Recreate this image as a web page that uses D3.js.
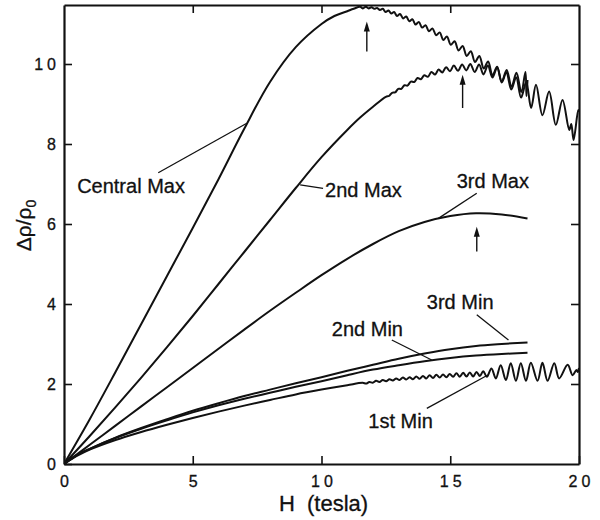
<!DOCTYPE html>
<html><head><meta charset="utf-8">
<script src="https://cdn.jsdelivr.net/npm/d3@7"></script>
<style>
body{margin:0;background:#fff}
svg{display:block}
text{font-family:"Liberation Sans",Arial,Helvetica,sans-serif;fill:#111;stroke:#111;stroke-width:0.3px}
</style>
</head><body>
<svg id="c" width="600" height="520"></svg>
<script>
// ---- data (H in tesla, value = Δρ/ρ0) ----
const xTicks = [0, 5, 10, 15, 20];
const yTicks = [0, 2, 4, 6, 8, 10];

const centralMax = [[0,0],[1,1.12],[2,2.3],[3,3.5],[4,4.7],[5,5.9],[6,7.12],[7,8.38],[8,9.55],[9,10.42],[10,11.0],[10.5,11.2],[11,11.32],[11.25,11.38],
 [11.5,11.43],[11.61,11.39],[11.72,11.43],[11.83,11.39],[11.94,11.42],[12.05,11.38],[12.16,11.40],[12.27,11.35],[12.38,11.38],[12.49,11.30],
 [12.6,11.34],[12.71,11.26],[12.82,11.30],[12.93,11.20],[13.05,11.25],[13.17,11.14],[13.29,11.19],[13.41,11.07],[13.53,11.12],[13.65,10.99],
 [13.78,11.05],[13.91,10.91],[14.04,10.97],[14.17,10.82],[14.31,10.89],[14.45,10.72],[14.59,10.79],[14.73,10.60],[14.87,10.69],[15.02,10.48],
 [15.17,10.57],[15.32,10.34],[15.48,10.45],[15.64,10.20],[15.8,10.32],[15.96,10.05],[16.13,10.20],[16.3,9.89],[16.47,10.06],[16.64,9.72],
 [16.82,9.93],[17.0,9.54],[17.18,9.79],[17.37,9.36],[17.56,9.67],[17.75,9.16],[17.95,9.55],[18.14,8.90],[18.33,9.48],[18.58,8.72],
 [18.84,9.31],[19.1,8.48],[19.36,9.10],[19.62,8.35],[19.7,8.5],[19.79,8.10],[19.97,8.85],[20,8.8]];

const secondMax = [[0,0],[1,0.7],[2,1.42],[3,2.16],[4,2.92],[5,3.7],[6,4.5],[7,5.3],[8,6.1],[9,6.9],[10,7.67],[11,8.35],[11.5,8.66],[12,8.93],
 [12.5,9.18],[12.62,9.20],[12.74,9.28],[12.86,9.29],[12.98,9.38],[13.1,9.38],[13.22,9.47],[13.34,9.46],[13.47,9.56],[13.6,9.55],
 [13.73,9.65],[13.86,9.62],[13.99,9.72],[14.13,9.68],[14.27,9.80],[14.41,9.74],[14.55,9.86],[14.69,9.79],[14.84,9.92],[14.99,9.82],
 [15.14,9.96],[15.3,9.83],[15.46,9.99],[15.62,9.84],[15.78,10.0],[15.95,9.80],[16.12,9.99],[16.29,9.74],[16.46,9.96],[16.64,9.66],
 [16.82,9.91],[17.0,9.56],[17.19,9.85],[17.38,9.43],[17.57,9.78],[17.76,9.30],[17.92,9.8],[17.96,9.2],[18.0,9.6]];

const thirdMax = [[0,0],[1,0.48],[2,0.96],[3,1.44],[4,1.92],[5,2.4],[6,2.88],[7,3.36],[8,3.83],[9,4.28],[10,4.72],[11,5.13],[12,5.5],
 [13,5.82],[14,6.05],[15,6.2],[16,6.27],[17,6.24],[18,6.14]];

const thirdMin = [[0,0],[0.5,0.22],[1,0.38],[2,0.66],[3,0.9],[4,1.12],[5,1.33],[6,1.52],[7,1.7],[8,1.86],[9,2.02],[10,2.17],[11,2.33],
 [12,2.48],[13,2.63],[14,2.76],[15,2.87],[16,2.95],[17,3.0],[18,3.04]];

const secondMin = [[0,0],[0.5,0.22],[1,0.38],[2,0.65],[3,0.88],[4,1.09],[5,1.29],[6,1.47],[7,1.63],[8,1.78],[9,1.93],[10,2.07],[11,2.22],
 [12,2.36],[13,2.47],[14,2.57],[15,2.65],[16,2.71],[17,2.75],[18,2.78]];

const firstMin = [[0,0],[0.5,0.2],[1,0.36],[2,0.6],[3,0.8],[4,0.98],[5,1.15],[6,1.31],[7,1.46],[8,1.6],[9,1.74],[10,1.86],[11,1.97],
 [11.6,2.03],[11.73,2.01],[11.86,2.05],[11.99,2.03],[12.12,2.08],[12.25,2.05],[12.38,2.10],[12.51,2.07],[12.64,2.12],[12.77,2.09],
 [12.9,2.14],[13.03,2.10],[13.16,2.16],[13.29,2.11],[13.42,2.17],[13.55,2.12],[13.68,2.19],[13.81,2.13],[13.94,2.20],[14.07,2.14],
 [14.2,2.22],[14.33,2.15],[14.46,2.23],[14.59,2.16],[14.72,2.24],[14.85,2.17],[14.98,2.25],[15.11,2.18],[15.24,2.27],[15.37,2.18],
 [15.5,2.28],[15.63,2.19],[15.76,2.29],[15.89,2.19],[16.02,2.30],[16.15,2.20],[16.28,2.32],[16.42,2.18],
 [16.6,2.39],[16.77,2.14],[16.96,2.47],[17.16,2.10],[17.35,2.52],[17.55,2.08],[17.74,2.52],[17.94,2.08],[18.13,2.53],[18.39,2.08],
 [18.58,2.53],[18.78,2.08],[19.04,2.52],[19.23,2.14],[19.56,2.48],[19.75,2.22],[19.9,2.35],[19.95,2.30],[20,2.40]];

const series = [centralMax, secondMax, thirdMax, thirdMin, secondMin, firstMin];

// annotation labels: text, text anchor (H,v), leader from, leader to (data units)
const labelTexts = ["Central Max", "2nd Max", "3rd Max", "3rd Min", "2nd Min", "1st Min"];
const labelAt    = [[0.51,6.78],[10.14,6.68],[15.25,6.9],[14.09,3.88],[10.4,3.2],[11.82,0.9]];
const leaderFrom = [[3.66,7.28],[9.17,6.98],[16.03,6.77],[16.03,3.73],[12.73,3.1],[14.09,1.39]];
const leaderTo   = [[7.10,8.52],[10.06,6.89],[14.54,6.14],[17.26,3.1],[14.28,2.6],[16.48,2.23]];
// arrows: H, tail value, tip value
const arrows = [[11.76,10.31,11.06],[15.48,8.9,9.73],[16.03,5.31,5.93]];

// ---- drawing ----
const svg = d3.select("#c");
const x = d3.scaleLinear().domain([0,20]).range([64,579]);
const y = d3.scaleLinear().domain([0,11.475]).range([464,5]);

svg.append("defs").append("clipPath").attr("id","clip")
  .append("rect").attr("x",x(0)).attr("y",y(11.475)).attr("width",x(20)-x(0)).attr("height",y(0)-y(11.475));

const line = d3.line().x(d=>x(d[0])).y(d=>y(d[1])).curve(d3.curveCatmullRom.alpha(0.5));

svg.append("g").attr("clip-path","url(#clip)")
  .selectAll("path").data(series).join("path")
  .attr("d", line).attr("fill","none").attr("stroke","#111")
  .attr("stroke-width",2).attr("stroke-linejoin","round");

function styleAxis(g){
  g.select(".domain").attr("stroke","#111").attr("stroke-width",2.2);
  g.selectAll(".tick line").attr("stroke","#111").attr("stroke-width",1.6);
  g.selectAll(".tick text").style("font-size","16px").style("letter-spacing","4px").attr("fill","#111");
}
svg.append("g").attr("transform",`translate(0,${y(0)})`)
  .call(d3.axisBottom(x).tickValues(xTicks).tickSizeInner(-8).tickSizeOuter(0).tickPadding(12))
  .call(styleAxis).call(g=>g.selectAll(".tick text").attr("dx","2"));
svg.append("g").attr("transform",`translate(${x(0)},0)`)
  .call(d3.axisLeft(y).tickValues(yTicks).tickSizeInner(-8).tickSizeOuter(0).tickPadding(4))
  .call(styleAxis).call(g=>g.selectAll(".tick text").attr("dy","0.36em"));
svg.append("g").attr("transform",`translate(0,${y(11.475)})`)
  .call(d3.axisTop(x).tickValues(xTicks.slice(1,4)).tickSizeInner(-8).tickSizeOuter(0).tickFormat(""))
  .call(styleAxis);
svg.append("g").attr("transform",`translate(${x(20)},0)`)
  .call(d3.axisRight(y).tickValues(yTicks.slice(1)).tickSizeInner(-8).tickSizeOuter(0).tickFormat(""))
  .call(styleAxis);

// axis titles
svg.append("text").attr("x",(x(0)+x(20))/2 + 2).attr("y",511)
  .attr("text-anchor","middle").style("font-size","22px").style("white-space","pre")
  .text("H  (tesla)");
const yl = svg.append("text").attr("transform",`translate(31,${(y(0)+y(11.475))/2 - 9}) rotate(-90)`)
  .attr("text-anchor","middle").style("font-size","21px");
yl.append("tspan").text("Δρ/ρ");
yl.append("tspan").attr("dy","5").style("font-size","14px").text("0");

// labels + leader lines
labelTexts.forEach((t,i)=>{
  svg.append("text").attr("x",x(labelAt[i][0])).attr("y",y(labelAt[i][1]))
    .style("font-size","20px").text(t);
  svg.append("line")
    .attr("x1",x(leaderFrom[i][0])).attr("y1",y(leaderFrom[i][1]))
    .attr("x2",x(leaderTo[i][0])).attr("y2",y(leaderTo[i][1]))
    .attr("stroke","#111").attr("stroke-width",1.3);
});

// arrows
arrows.forEach(a=>{
  const ax = x(a[0]), y0 = y(a[1]), y1 = y(a[2]);
  svg.append("line").attr("x1",ax).attr("x2",ax).attr("y1",y0).attr("y2",y1+6)
    .attr("stroke","#111").attr("stroke-width",1.4);
  svg.append("path").attr("d",`M${ax},${y1} L${ax-3},${y1+10} L${ax+3},${y1+10} Z`).attr("fill","#111");
});
</script>
</body></html>
